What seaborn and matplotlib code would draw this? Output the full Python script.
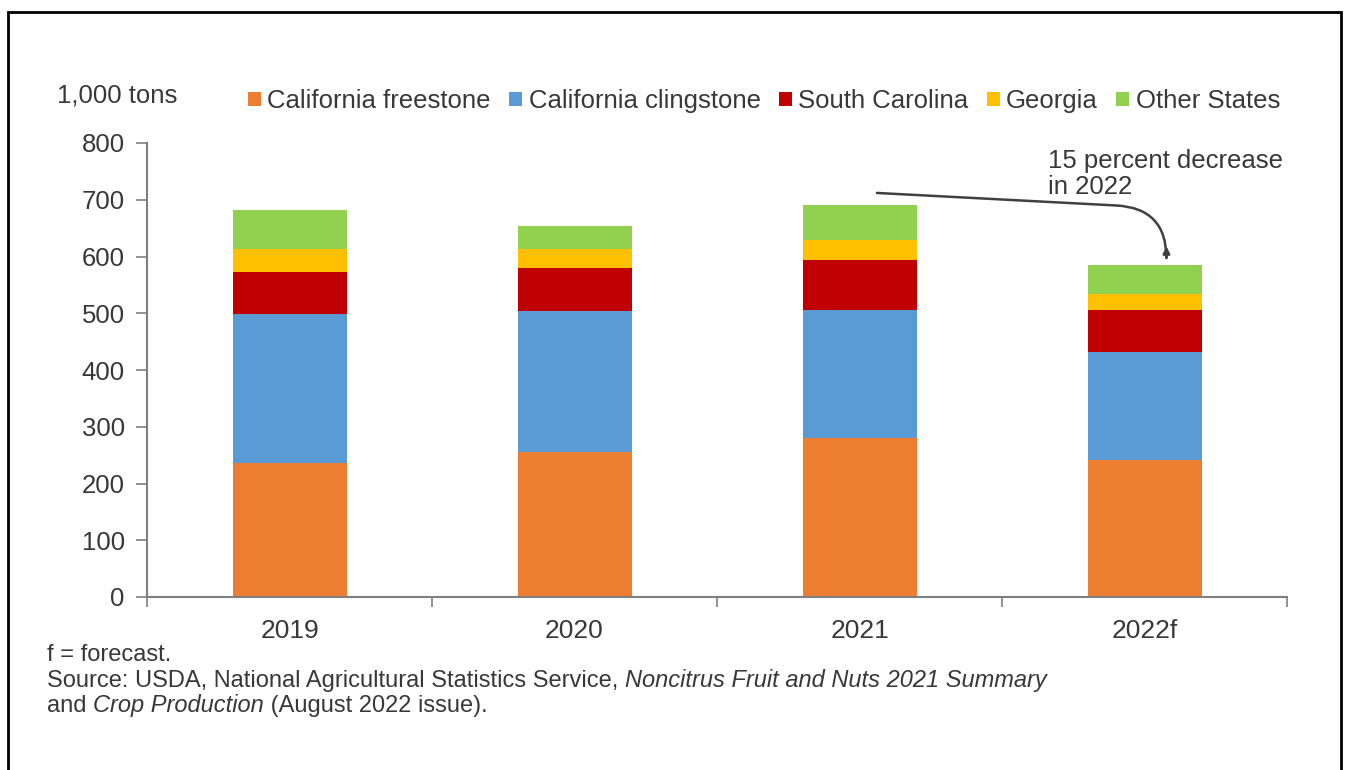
import matplotlib
matplotlib.use("Agg")
import matplotlib.pyplot as plt
import seaborn as sns
import pandas as pd
import numpy as np
from matplotlib.patches import Patch, Rectangle

years = ["2019", "2020", "2021", "2022f"]
series = ["California freestone", "California clingstone", "South Carolina", "Georgia", "Other States"]
ca_freestone = [236, 255, 280, 241]
ca_clingstone = [263, 249, 226, 191]
south_carolina = [74, 76, 88, 74]
georgia = [40, 33, 35, 28]
other_states = [69, 41, 62, 51]
colors = ["#ED7D31", "#5B9BD5", "#C00000", "#FFC000", "#92D050"]
yticks = [0, 100, 200, 300, 400, 500, 600, 700, 800]

sns.set_theme(style="white")
plt.rcParams["font.family"] = ["Liberation Sans", "DejaVu Sans"]
txt = "#383838"
axc = "#7f7f7f"

fig = plt.figure(figsize=(13.51, 7.70), dpi=100)
ax = fig.add_axes([147/1351, 1-597/770, (1287-147)/1351, (597-143)/770])

layers = [ca_freestone, ca_clingstone, south_carolina, georgia, other_states]
cum = np.cumsum(np.array(layers), axis=0)
for i in range(len(layers) - 1, -1, -1):
    df = pd.DataFrame({"year": years, "value": cum[i]})
    sns.barplot(data=df, x="year", y="value", color=colors[i], width=0.40,
                saturation=1, ax=ax, linewidth=0, order=years)

ax.set_xlim(-0.5, 3.5)
ax.set_ylim(0, 800)
ax.set_yticks(yticks)
ax.set_yticklabels([str(v) for v in yticks])
ax.set_xlabel("")
ax.set_ylabel("")
for s in ["top", "right"]:
    ax.spines[s].set_visible(False)
for s in ["left", "bottom"]:
    ax.spines[s].set_color(axc)
    ax.spines[s].set_linewidth(1.5)
ax.tick_params(axis="y", which="major", direction="out", length=8, width=1.2,
               color=axc, left=True, labelsize=18.5, labelcolor=txt, pad=8)
ax.tick_params(axis="x", which="major", length=0, labelsize=19, labelcolor=txt, pad=16)
ax.set_xticks(np.arange(-0.5, 3.6, 1.0), minor=True)
ax.tick_params(axis="x", which="minor", direction="out", length=7, width=1.2,
               color=axc, bottom=True)

# annotation arrow
ax.annotate("", xy=(3.077, 618), xytext=(2.061, 712), xycoords="data",
            arrowprops=dict(arrowstyle="-|>", color="#404040", lw=1.8,
                            mutation_scale=10, shrinkA=0, shrinkB=0,
                            connectionstyle="angle,angleA=-3,angleB=90,rad=50"))
ax.text(2.661, 746, "15 percent decrease\nin 2022", fontsize=18.5, color=txt,
        ha="left", va="center", linespacing=1.1)

# unit label
fig.text(57/1351, 1-95/770, "1,000 tons", fontsize=18.5, color=txt, ha="left", va="center")

# legend
handles = [Patch(facecolor=c, edgecolor="none") for c in colors]
fig.legend(handles, series, loc="center left", bbox_to_anchor=(248/1351, 1-101/770),
           ncol=5, frameon=False, fontsize=18.5, handlelength=0.5, handleheight=0.5,
           handletextpad=0.25, columnspacing=0.72, borderpad=0, borderaxespad=0,
           labelcolor=txt)

# footnotes
fs = 17
fig.text(47/1351, 1-655/770, "f = forecast.", fontsize=fs, color=txt, ha="left", va="center")
t1 = fig.text(47/1351, 1-681/770, "Source: USDA, National Agricultural Statistics Service, ",
              fontsize=fs, color=txt, ha="left", va="center")
ax.annotate("Noncitrus Fruit and Nuts 2021 Summary", xy=(1, 0), xycoords=t1,
            fontsize=fs, color=txt, style="italic", ha="left", va="bottom",
            annotation_clip=False)
t2 = fig.text(47/1351, 1-706/770, "and ", fontsize=fs, color=txt, ha="left", va="center")
t3 = ax.annotate("Crop Production", xy=(1, 0), xycoords=t2, fontsize=fs, color=txt,
                 style="italic", ha="left", va="bottom", annotation_clip=False)
ax.annotate(" (August 2022 issue).", xy=(1, 0), xycoords=t3, fontsize=fs, color=txt,
            ha="left", va="bottom", annotation_clip=False)

# frame
fig.patches.append(Rectangle((8/1351, -0.2), (1341-8)/1351, 1.2 - 12/770,
                             transform=fig.transFigure, fill=False,
                             edgecolor="black", linewidth=2))

fig.savefig("out.png", dpi=100)
